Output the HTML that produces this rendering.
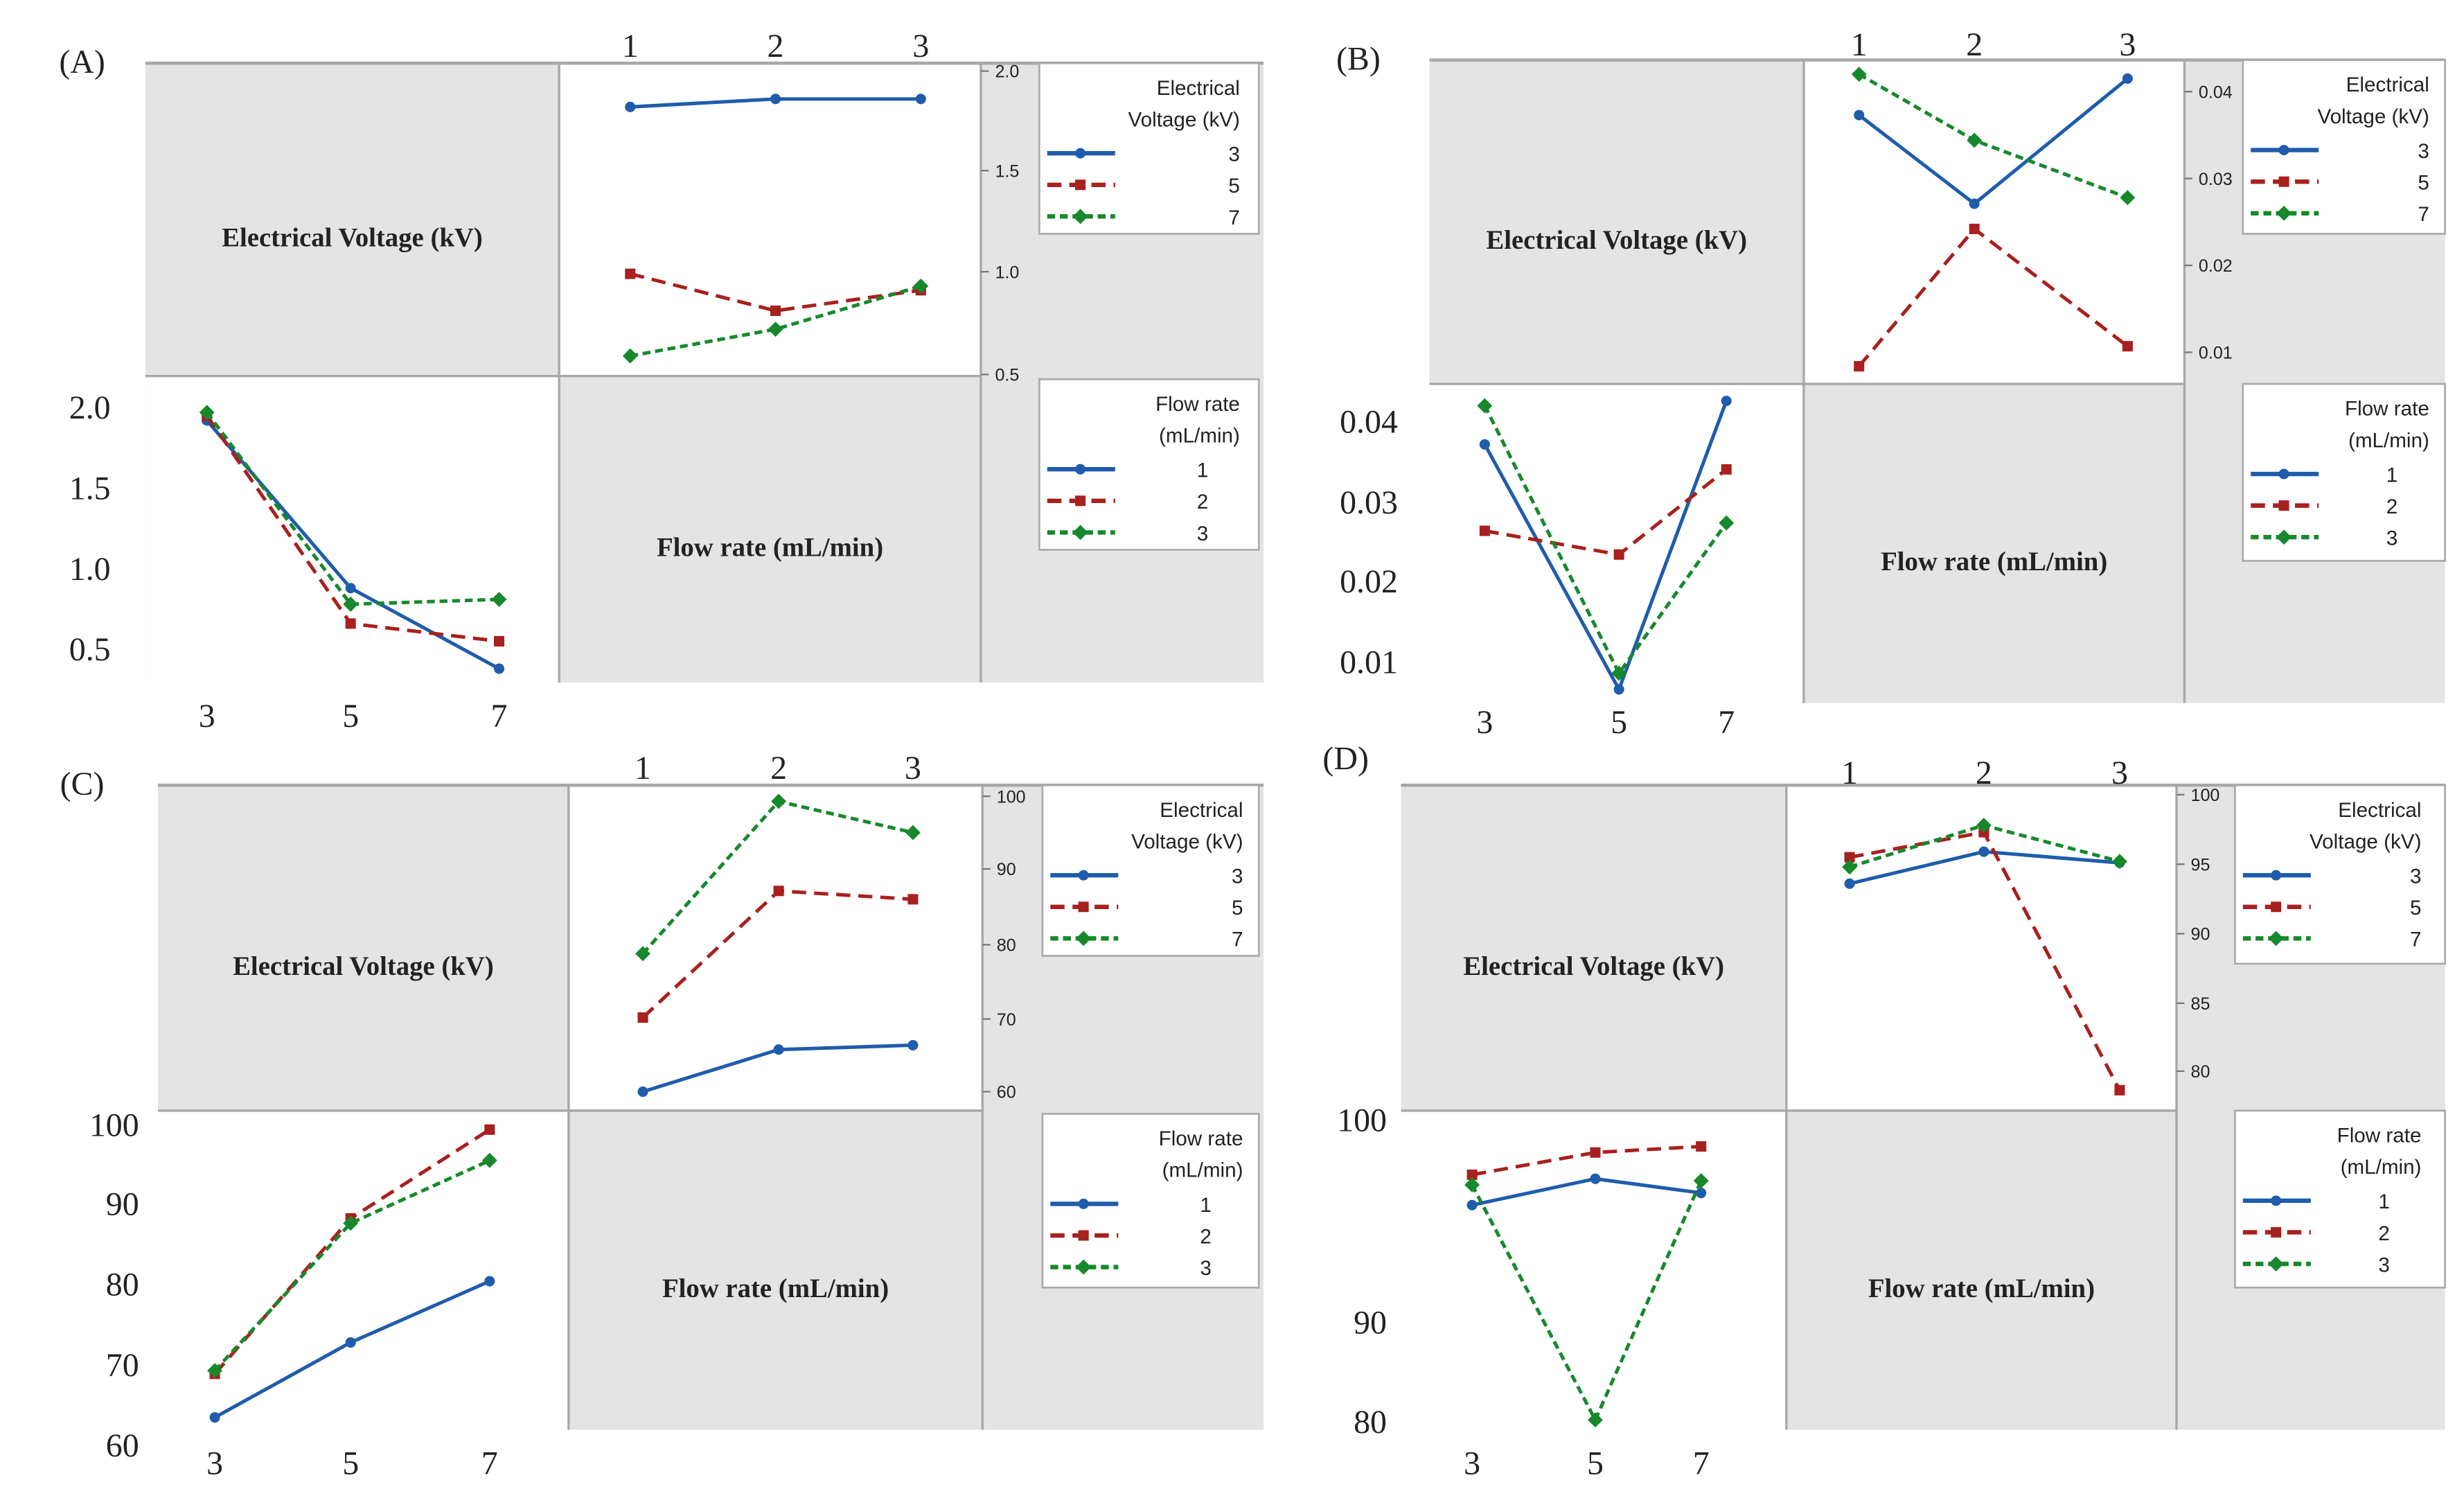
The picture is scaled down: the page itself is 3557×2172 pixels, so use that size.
<!DOCTYPE html>
<html><head><meta charset="utf-8"><style>
html,body{margin:0;padding:0;background:#fff;}
svg{display:block;}
.serif{font-family:"Liberation Serif",serif;}
.sans{font-family:"Liberation Sans",sans-serif;}
</style></head><body>
<svg id="fig" xmlns="http://www.w3.org/2000/svg" width="3557" height="2172" viewBox="0 0 1560 952.6" preserveAspectRatio="none"></svg>
<script>
// ---------- DATA ----------
const flowCats = [1, 2, 3];
const voltCats = [3, 5, 7];
const voltLegendLabels = ['3', '5', '7'];
const flowLegendLabels = ['1', '2', '3'];
// Panel A
const aTopV3 = [1.82, 1.86, 1.86];
const aTopV5 = [0.99, 0.81, 0.91];
const aTopV7 = [0.59, 0.72, 0.93];
const aBotF1 = [1.92, 0.88, 0.38];
const aBotF2 = [1.95, 0.66, 0.55];
const aBotF3 = [1.97, 0.78, 0.81];
const aTopTicks = [2.0, 1.5, 1.0, 0.5];
const aTopTickLabels = ['2.0', '1.5', '1.0', '0.5'];
const aBotTicks = [2.0, 1.5, 1.0, 0.5];
const aBotTickLabels = ['2.0', '1.5', '1.0', '0.5'];
// Panel B
const bTopV3 = [0.0373, 0.0271, 0.0415];
const bTopV5 = [0.0084, 0.0242, 0.0107];
const bTopV7 = [0.0420, 0.0344, 0.0278];
const bBotF1 = [0.0372, 0.0066, 0.0424];
const bBotF2 = [0.0264, 0.0234, 0.0341];
const bBotF3 = [0.0418, 0.0086, 0.0274];
const bTopTicks = [0.04, 0.03, 0.02, 0.01];
const bTopTickLabels = ['0.04', '0.03', '0.02', '0.01'];
const bBotTicks = [0.04, 0.03, 0.02, 0.01];
const bBotTickLabels = ['0.04', '0.03', '0.02', '0.01'];
// Panel C
const cTopV3 = [60.0, 65.8, 66.4];
const cTopV5 = [70.2, 87.1, 86.0];
const cTopV7 = [78.8, 99.3, 95.0];
const cBotF1 = [63.5, 72.8, 80.4];
const cBotF2 = [68.9, 88.2, 99.4];
const cBotF3 = [69.3, 87.6, 95.5];
const cTopTicks = [100, 90, 80, 70, 60];
const cTopTickLabels = ['100', '90', '80', '70', '60'];
const cBotTicks = [100, 90, 80, 70, 60];
const cBotTickLabels = ['100', '90', '80', '70', '60'];
// Panel D
const dTopV3 = [93.6, 95.9, 95.1];
const dTopV5 = [95.5, 97.3, 78.6];
const dTopV7 = [94.8, 97.8, 95.2];
const dBotF1 = [95.8, 97.1, 96.4];
const dBotF2 = [97.3, 98.4, 98.7];
const dBotF3 = [96.8, 80.2, 97.0];
const dTopTicks = [100, 95, 90, 85, 80];
const dTopTickLabels = ['100', '95', '90', '85', '80'];
const dBotTicks = [100, 90, 80];
const dBotTickLabels = ['100', '90', '80'];

// ---------- RENDER ----------
const NS = 'http://www.w3.org/2000/svg';
const svg = document.getElementById('fig');
const COLORS = ['#1f5cab', '#a8201f', '#17882c'];
const DASH = ['', '9,5', '5,3'];
function el(tag, attrs, parent) {
  const e = document.createElementNS(NS, tag);
  for (const k in attrs) e.setAttribute(k, attrs[k]);
  (parent || svg).appendChild(e);
  return e;
}
function txt(s, x, y, cls, size, anchor, parent, weight) {
  const t = el('text', {x: x, y: y, 'class': cls, 'font-size': size, 'text-anchor': anchor || 'middle', fill: '#222'}, parent);
  if (weight) t.setAttribute('font-weight', weight);
  t.textContent = s;
  return t;
}
function scale(domain, range) {
  return function (v) {
    for (let i = 0; i < domain.length - 1; i++) {
      const a = domain[i], b = domain[i + 1];
      if ((v >= Math.min(a, b) && v <= Math.max(a, b)) || i === domain.length - 2) {
        return range[i] + (v - a) / (b - a) * (range[i + 1] - range[i]);
      }
    }
  };
}
function marker(kind, x, y, color, g) {
  let m;
  if (kind === 0) m = el('circle', {cx: x, cy: y, r: 3.3, fill: color}, g);
  else if (kind === 1) m = el('rect', {x: x - 3.3, y: y - 3.3, width: 6.6, height: 6.6, fill: color}, g);
  else m = el('polygon', {points: [x, y - 4.8, x + 4.8, y, x, y + 4.8, x - 4.8, y].join(' ') , fill: color}, g);
  return m;
}
function drawSeries(g, cats, vals, xs, ys, k, name) {
  const pts = cats.map((c, i) => xs(c) + ',' + ys(vals[i])).join(' ');
  const line = el('polyline', {points: pts, fill: 'none', stroke: COLORS[k], 'stroke-width': 2.2}, g);
  if (DASH[k]) line.setAttribute('stroke-dasharray', DASH[k]);
  
  
  cats.forEach((c, i) => {
    const m = marker(k, xs(c), ys(vals[i]), COLORS[k], g);
    
    
  });
}
function legend(g, L, title1, title2, labels, valX, name) {
  const lg = el('g', {}, g);
  
  
  el('rect', {x: L.x, y: L.y, width: L.w, height: L.h, fill: '#fff', stroke: '#aaa', 'stroke-width': 1.2}, lg);
  txt(title1, L.tx, L.y + 20, 'sans', 13, 'end', lg);
  txt(title2, L.tx, L.y + 40, 'sans', 13, 'end', lg);
  labels.forEach((s, k) => {
    const yy = L.y + 57 + k * 20;
    const ln = el('line', {x1: L.x + 5, x2: L.x + 48, y1: yy, y2: yy, stroke: COLORS[k], 'stroke-width': 2.8}, lg);
    if (DASH[k]) ln.setAttribute('stroke-dasharray', DASH[k]);
    marker(k, L.x + 26, yy, COLORS[k], lg);
    txt(s, valX, yy + 5, 'sans', 13, 'end', lg);
  });
}
function panel(P, D) {
  const g = el('g', {});
  
  
  el('rect', {x: P.x0, y: P.y0, width: P.x3 - P.x0, height: P.y2 - P.y0, fill: '#e4e4e4'}, g);
  el('rect', {x: P.x1, y: P.y0, width: P.x2 - P.x1, height: P.y1 - P.y0, fill: '#fff'}, g);
  el('rect', {x: P.x0, y: P.y1, width: P.x1 - P.x0, height: P.y2 - P.y1, fill: '#fff'}, g);
  el('line', {x1: P.x0, x2: P.x3, y1: P.y0, y2: P.y0, stroke: '#a8a8a8', 'stroke-width': 2}, g);
  el('line', {x1: P.x0, x2: P.x2, y1: P.y1, y2: P.y1, stroke: '#a8a8a8', 'stroke-width': 1.5}, g);
  el('line', {x1: P.x1, x2: P.x1, y1: P.y0, y2: P.y2, stroke: '#a8a8a8', 'stroke-width': 1.5}, g);
  el('line', {x1: P.x2, x2: P.x2, y1: P.y0, y2: P.y2, stroke: '#a8a8a8', 'stroke-width': 1.5}, g);
  const pl = txt(P.label, P.lx, P.ly, 'serif', 21, 'middle', g);
  
  
  const t1 = txt('Electrical Voltage (kV)', (P.x0 + P.x1) / 2, (P.y0 + P.y1) / 2 + 17, 'serif', 17, 'middle', g, 'bold');
  
  
  const t2 = txt('Flow rate (mL/min)', (P.x1 + P.x2) / 2, (P.y1 + P.y2) / 2 + 17, 'serif', 17, 'middle', g, 'bold');
  
  
  const xsT = scale(flowCats, P.topX);
  const ysT = scale(D.topTicks, P.topTickY);
  flowCats.forEach(c => {
    const t = txt(String(c), xsT(c), P.topLabY, 'serif', 21, 'middle', g);
    
    
  });
  D.topTicks.forEach((v, i) => {
    el('line', {x1: P.x2, x2: P.x2 + 5, y1: ysT(v), y2: ysT(v), stroke: '#777', 'stroke-width': 1}, g);
    const t = txt(D.topTickLabels[i], P.x2 + 9, ysT(v) + 4, 'sans', 11, 'start', g);
    
    
  });
  D.top.forEach((s, k) => drawSeries(g, flowCats, s, xsT, ysT, k, 'voltage-' + voltLegendLabels[k] + '-series'));
  const xsB = scale(voltCats, P.botX);
  const ysB = scale(D.botTicks, P.botTickY);
  voltCats.forEach(c => {
    const t = txt(String(c), xsB(c), P.botLabY, 'serif', 21, 'middle', g);
    
    
  });
  D.botTicks.forEach((v, i) => {
    const t = txt(D.botTickLabels[i], P.leftLabX, ysB(v) + 7, 'serif', 21, 'end', g);
    
    
  });
  D.bot.forEach((s, k) => drawSeries(g, voltCats, s, xsB, ysB, k, 'flow-' + flowLegendLabels[k] + '-series'));
  legend(g, P.leg1, 'Electrical', 'Voltage (kV)', voltLegendLabels, P.leg1.tx, 'voltage-legend');
  legend(g, P.leg2, 'Flow rate', '(mL/min)', flowLegendLabels, P.leg2.tx - 20, 'flow-rate-legend');
}

panel({name: 'panel-a', label: '(A)', lx: 52, ly: 46, x0: 92, x1: 354, x2: 621, x3: 800, y0: 40, y1: 238, y2: 432,
  topX: [399, 491, 583], topTickY: [45, 108, 172, 237], topLabY: 36,
  botX: [131, 222, 316], botTickY: [258, 309, 360, 411], botLabY: 460, leftLabX: 70,
  leg1: {x: 658, y: 40, w: 139, h: 108, tx: 785}, leg2: {x: 658, y: 240, w: 139, h: 108, tx: 785}},
  {top: [aTopV3, aTopV5, aTopV7], bot: [aBotF1, aBotF2, aBotF3], topTicks: aTopTicks, topTickLabels: aTopTickLabels, botTicks: aBotTicks, botTickLabels: aBotTickLabels});

panel({name: 'panel-b', label: '(B)', lx: 860, ly: 44, x0: 905, x1: 1142, x2: 1383, x3: 1548, y0: 38, y1: 243, y2: 445,
  topX: [1177, 1250, 1347], topTickY: [58, 113, 168, 223], topLabY: 35,
  botX: [940, 1025, 1093], botTickY: [267, 318, 368, 419], botLabY: 464, leftLabX: 885,
  leg1: {x: 1420, y: 38, w: 128, h: 110, tx: 1538}, leg2: {x: 1420, y: 243, w: 128, h: 112, tx: 1538}},
  {top: [bTopV3, bTopV5, bTopV7], bot: [bBotF1, bBotF2, bBotF3], topTicks: bTopTicks, topTickLabels: bTopTickLabels, botTicks: bBotTicks, botTickLabels: bBotTickLabels});

panel({name: 'panel-c', label: '(C)', lx: 52, ly: 503, x0: 100, x1: 360, x2: 622, x3: 800, y0: 497, y1: 703, y2: 905,
  topX: [407, 493, 578], topTickY: [504, 550, 598, 645, 691], topLabY: 493,
  botX: [136, 222, 310], botTickY: [712, 762, 813, 864, 915], botLabY: 933, leftLabX: 88,
  leg1: {x: 660, y: 497, w: 137, h: 108, tx: 787}, leg2: {x: 660, y: 705, w: 137, h: 110, tx: 787}},
  {top: [cTopV3, cTopV5, cTopV7], bot: [cBotF1, cBotF2, cBotF3], topTicks: cTopTicks, topTickLabels: cTopTickLabels, botTicks: cBotTicks, botTickLabels: cBotTickLabels});

panel({name: 'panel-d', label: '(D)', lx: 852, ly: 487, x0: 887, x1: 1131, x2: 1378, x3: 1548, y0: 497, y1: 703, y2: 905,
  topX: [1171, 1256, 1342], topTickY: [503, 547, 591, 635, 678], topLabY: 496,
  botX: [932, 1010, 1077], botTickY: [709, 837, 900], botLabY: 933, leftLabX: 878,
  leg1: {x: 1415, y: 497, w: 133, h: 113, tx: 1533}, leg2: {x: 1415, y: 703, w: 133, h: 112, tx: 1533}},
  {top: [dTopV3, dTopV5, dTopV7], bot: [dBotF1, dBotF2, dBotF3], topTicks: dTopTicks, topTickLabels: dTopTickLabels, botTicks: dBotTicks, botTickLabels: dBotTickLabels});
</script>
</body></html>
